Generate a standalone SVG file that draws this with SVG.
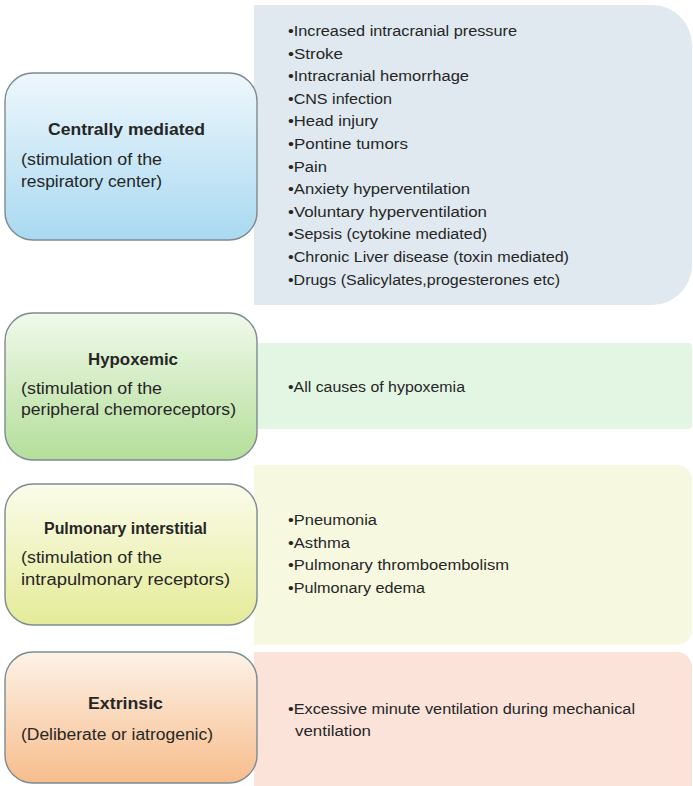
<svg xmlns="http://www.w3.org/2000/svg" width="693" height="786" viewBox="0 0 693 786">
  <defs>
    <linearGradient id="gBlue" x1="0" y1="0" x2="0" y2="1">
      <stop offset="0" stop-color="#eef7fc"/>
      <stop offset="1" stop-color="#a9d9f1"/>
    </linearGradient>
    <linearGradient id="gGreen" x1="0" y1="0" x2="0" y2="1">
      <stop offset="0" stop-color="#f0f9ea"/>
      <stop offset="1" stop-color="#b4de9a"/>
    </linearGradient>
    <linearGradient id="gYellow" x1="0" y1="0" x2="0" y2="1">
      <stop offset="0" stop-color="#fbfcea"/>
      <stop offset="1" stop-color="#e4eb98"/>
    </linearGradient>
    <linearGradient id="gOrange" x1="0" y1="0" x2="0" y2="1">
      <stop offset="0" stop-color="#fdf2e7"/>
      <stop offset="1" stop-color="#f7bd8c"/>
    </linearGradient>
    <style>
      .box { stroke: #7d8a92; stroke-width: 1.4; }
      text { font-family: "Liberation Sans", Arial, sans-serif; font-size: 15.5px; fill: #262626; }
      .lbl { font-size: 16px; }
      .title { font-weight: bold; }
    </style>
  </defs>

  <rect width="693" height="786" fill="#ffffff"/>

  <!-- Cause panels (drawn first, the category boxes overlap their left edges) -->
  <g id="panel-central">
    <path d="M254,5 H652 A40,40 0 0 1 692,45 V265 A40,40 0 0 1 652,305 H254 Z" fill="#dfe9ef"/>
    <text x="288" y="36" textLength="229" lengthAdjust="spacingAndGlyphs">•Increased intracranial pressure</text>
    <text x="288" y="58.6" textLength="55" lengthAdjust="spacingAndGlyphs">•Stroke</text>
    <text x="288" y="81.2" textLength="181" lengthAdjust="spacingAndGlyphs">•Intracranial hemorrhage</text>
    <text x="288" y="103.8" textLength="104" lengthAdjust="spacingAndGlyphs">•CNS infection</text>
    <text x="288" y="126.4" textLength="90" lengthAdjust="spacingAndGlyphs">•Head injury</text>
    <text x="288" y="149" textLength="120" lengthAdjust="spacingAndGlyphs">•Pontine tumors</text>
    <text x="288" y="171.6" textLength="39" lengthAdjust="spacingAndGlyphs">•Pain</text>
    <text x="288" y="194.2" textLength="182" lengthAdjust="spacingAndGlyphs">•Anxiety hyperventilation</text>
    <text x="288" y="216.8" textLength="199" lengthAdjust="spacingAndGlyphs">•Voluntary hyperventilation</text>
    <text x="288" y="239.4" textLength="199" lengthAdjust="spacingAndGlyphs">•Sepsis (cytokine mediated)</text>
    <text x="288" y="262" textLength="281" lengthAdjust="spacingAndGlyphs">•Chronic Liver disease (toxin mediated)</text>
    <text x="288" y="284.6" textLength="272" lengthAdjust="spacingAndGlyphs">•Drugs (Salicylates,progesterones etc)</text>
  </g>

  <g id="panel-hypoxemic">
    <path d="M254,343 H688 A4,4 0 0 1 692,347 V425 A4,4 0 0 1 688,429 H254 Z" fill="#e3f6e3"/>
    <text x="288" y="392" textLength="177" lengthAdjust="spacingAndGlyphs">•All causes of hypoxemia</text>
  </g>

  <g id="panel-pulmonary">
    <path d="M254,465 H677 A15,15 0 0 1 692,480 V630 A15,15 0 0 1 677,645 H254 Z" fill="#f6f8e0"/>
    <text x="288" y="525" textLength="89" lengthAdjust="spacingAndGlyphs">•Pneumonia</text>
    <text x="288" y="547.5" textLength="62" lengthAdjust="spacingAndGlyphs">•Asthma</text>
    <text x="288" y="570" textLength="221" lengthAdjust="spacingAndGlyphs">•Pulmonary thromboembolism</text>
    <text x="288" y="592.5" textLength="137" lengthAdjust="spacingAndGlyphs">•Pulmonary edema</text>
  </g>

  <g id="panel-extrinsic">
    <path d="M254,652 H677 A15,15 0 0 1 692,667 V790 H254 Z" fill="#fbe3da"/>
    <text x="288" y="714" textLength="347" lengthAdjust="spacingAndGlyphs">•Excessive minute ventilation during mechanical</text>
    <text x="295" y="736" textLength="76" lengthAdjust="spacingAndGlyphs">ventilation</text>
  </g>

  <!-- Category boxes -->
  <g id="node-central">
    <rect class="box" x="5" y="73" width="252" height="167" rx="28" fill="url(#gBlue)"/>
    <text class="lbl title" x="48" y="135" textLength="157" lengthAdjust="spacingAndGlyphs">Centrally mediated</text>
    <text class="lbl" x="21" y="165" textLength="141" lengthAdjust="spacingAndGlyphs">(stimulation of the</text>
    <text class="lbl" x="21" y="187" textLength="141" lengthAdjust="spacingAndGlyphs">respiratory center)</text>
  </g>

  <g id="node-hypoxemic">
    <rect class="box" x="5" y="313" width="252" height="147" rx="28" fill="url(#gGreen)"/>
    <text class="lbl title" x="88" y="365" textLength="90" lengthAdjust="spacingAndGlyphs">Hypoxemic</text>
    <text class="lbl" x="21" y="394" textLength="141" lengthAdjust="spacingAndGlyphs">(stimulation of the</text>
    <text class="lbl" x="21" y="415" textLength="215" lengthAdjust="spacingAndGlyphs">peripheral chemoreceptors)</text>
  </g>

  <g id="node-pulmonary">
    <rect class="box" x="5" y="484" width="252" height="141" rx="28" fill="url(#gYellow)"/>
    <text class="lbl title" x="44" y="534" textLength="163" lengthAdjust="spacingAndGlyphs">Pulmonary interstitial</text>
    <text class="lbl" x="21" y="563" textLength="141" lengthAdjust="spacingAndGlyphs">(stimulation of the</text>
    <text class="lbl" x="21" y="585" textLength="209" lengthAdjust="spacingAndGlyphs">intrapulmonary receptors)</text>
  </g>

  <g id="node-extrinsic">
    <rect class="box" x="5" y="652" width="252" height="131" rx="28" fill="url(#gOrange)"/>
    <text class="lbl title" x="88" y="709" textLength="75" lengthAdjust="spacingAndGlyphs">Extrinsic</text>
    <text class="lbl" x="21" y="740" textLength="192" lengthAdjust="spacingAndGlyphs">(Deliberate or iatrogenic)</text>
  </g>
</svg>
